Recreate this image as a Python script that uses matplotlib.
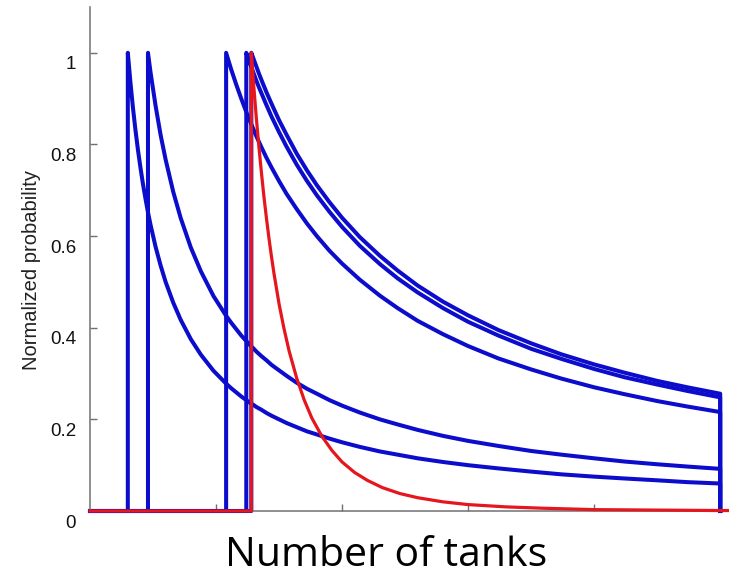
import matplotlib
matplotlib.use("Agg")
import matplotlib.pyplot as plt
from matplotlib.transforms import ScaledTranslation


tank_counts = [15, 16, 17, 18, 19, 20, 21, 22, 23, 24, 26, 28, 30, 33, 36, 40, 44,
               49, 54, 56, 58, 60, 62, 63, 64, 65, 66, 67, 68, 70, 72, 75, 78, 82,
               86, 90, 95, 100, 107, 115, 122, 130, 140, 150, 162, 175, 187, 200,
               212, 225, 237, 250]

# blue curves: one per observed serial number, each starts at its serial
serial_15 = [1.000, 0.938, 0.882, 0.833, 0.789, 0.750, 0.714, 0.682, 0.652, 0.625,
             0.577, 0.536, 0.500, 0.455, 0.417, 0.375, 0.341, 0.306, 0.278, 0.268,
             0.259, 0.250, 0.242, 0.238, 0.234, 0.231, 0.227, 0.224, 0.221, 0.214,
             0.208, 0.200, 0.192, 0.183, 0.174, 0.167, 0.158, 0.150, 0.140, 0.130,
             0.123, 0.115, 0.107, 0.100, 0.093, 0.086, 0.080, 0.075, 0.071, 0.067,
             0.063, 0.060]
serial_23 = [1.000, 0.958, 0.885, 0.821, 0.767, 0.697, 0.639, 0.575, 0.523, 0.469,
             0.426, 0.411, 0.397, 0.383, 0.371, 0.365, 0.359, 0.354, 0.348, 0.343,
             0.338, 0.329, 0.319, 0.307, 0.295, 0.280, 0.267, 0.256, 0.242, 0.230,
             0.215, 0.200, 0.189, 0.177, 0.164, 0.153, 0.142, 0.131, 0.123, 0.115,
             0.108, 0.102, 0.097, 0.092]
serial_54 = [1.000, 0.964, 0.931, 0.900, 0.871, 0.857, 0.844, 0.831, 0.818, 0.806,
             0.794, 0.771, 0.750, 0.720, 0.692, 0.659, 0.628, 0.600, 0.568, 0.540,
             0.505, 0.470, 0.443, 0.415, 0.386, 0.360, 0.333, 0.309, 0.289, 0.270,
             0.255, 0.240, 0.228, 0.216]
serial_62 = [1.000, 0.984, 0.969, 0.954, 0.939, 0.925, 0.912, 0.886, 0.861, 0.827,
             0.795, 0.756, 0.721, 0.689, 0.653, 0.620, 0.579, 0.539, 0.508, 0.477,
             0.443, 0.413, 0.383, 0.354, 0.332, 0.310, 0.292, 0.276, 0.262, 0.248]
serial_64 = [1.000, 0.985, 0.970, 0.955, 0.941, 0.914, 0.889, 0.853, 0.821, 0.780,
             0.744, 0.711, 0.674, 0.640, 0.598, 0.557, 0.525, 0.492, 0.457, 0.427,
             0.395, 0.366, 0.342, 0.320, 0.302, 0.284, 0.270, 0.256]
blue_curves = [serial_15, serial_23, serial_54, serial_62, serial_64]

# red curve: combined estimate from all serials
red_counts = [64, 65, 66, 67, 68, 69, 70, 71, 72, 73, 75, 77, 79, 82, 85, 88, 92,
              96, 100, 105, 110, 116, 123, 130, 140, 150, 165, 180, 200, 225, 250,
              253]
red_values = [1.000, 0.925, 0.857, 0.795, 0.739, 0.686, 0.639, 0.595, 0.555, 0.518,
              0.452, 0.397, 0.349, 0.290, 0.242, 0.203, 0.163, 0.132, 0.107, 0.084,
              0.067, 0.051, 0.038, 0.029, 0.020, 0.014, 0.009, 0.006, 0.003, 0.002,
              0.001, 0.001]

y_ticks = [0, 0.2, 0.4, 0.6, 0.8, 1]
y_tick_labels = ["0", "0.2", "0.4", "0.6", "0.8", "1"]
x_ticks = [50, 100, 150, 200, 250]

BLUE = "#0c0ccc"
RED = "#e5161d"
GREY = "#707070"

plt.rcParams['font.family'] = ['Liberation Sans', 'DejaVu Sans']

fig = plt.figure(figsize=(7.29, 5.77), dpi=100)
ax = fig.add_axes([90 / 729, 66 / 577, 639 / 729, 504 / 577])

for vals in blue_curves:
    xs = tank_counts[-len(vals):]
    start = xs[0]
    ax.plot([0, start] + xs + [250], [0, 0] + vals + [0],
            color=BLUE, lw=2.9, clip_on=False)

ax.plot([0, 64] + red_counts, [0, 0] + red_values,
        color=RED, lw=2.3, clip_on=False, zorder=3)

ax.set_xlim(0, 253.5)
ax.set_ylim(0, 1.1)

for side in ["top", "right"]:
    ax.spines[side].set_visible(False)
for side in ["left", "bottom"]:
    ax.spines[side].set_color(GREY)
    ax.spines[side].set_linewidth(1.1)

ax.set_xticks(x_ticks)
ax.set_xticklabels([])
ax.set_yticks(y_ticks)
ax.set_yticklabels(y_tick_labels)
ax.tick_params(direction="in", length=5, width=1, color=GREY)
ax.tick_params(axis="y", labelsize=13.5, pad=10, labelcolor="#111111")

# labels in the original sit a bit below their ticks
shift = ScaledTranslation(0, -10 / 100, fig.dpi_scale_trans)
for lab in ax.get_yticklabels():
    lab.set_transform(lab.get_transform() + shift)

fig.text(32 / 729, 1 - 270 / 577, "Normalized probability", rotation=90,
         ha="center", va="center", fontsize=14.5, color="#222222")
fig.text(386 / 729, 1 - 566 / 577, "Number of tanks", ha="center", va="baseline",
         fontsize=29.5, color="black", family=["Open Sans", "DejaVu Sans"])

plt.savefig("out.png", dpi=100)
